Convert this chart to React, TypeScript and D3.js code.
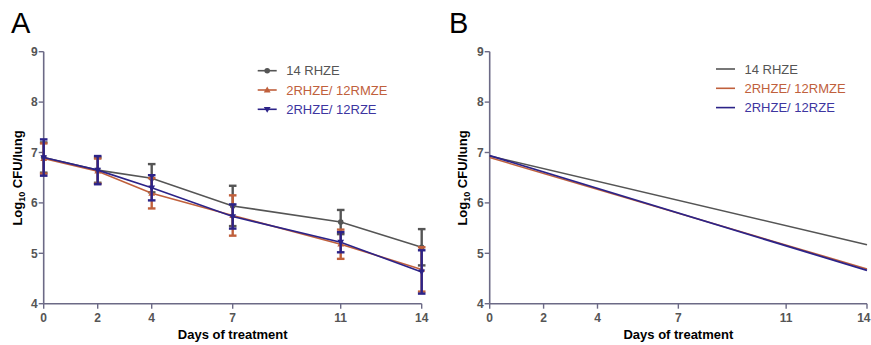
import * as d3 from 'd3'
import React from 'react'

const days = [0, 2, 4, 7, 11, 14]
const xTicks = [0, 2, 4, 7, 11, 14]
const yTicks = [4, 5, 6, 7, 8, 9]

const seriesNames = ['14 RHZE', '2RHZE/ 12RMZE', '2RHZE/ 12RZE']
const seriesColors = ['#555555', '#c0603c', '#2c2388']
const legendTextColors = ['#555555', '#c0603c', '#3d35a0']

// panel A means and SD
const meanRHZE = [6.9, 6.65, 6.49, 5.94, 5.62, 5.12]
const sdRHZE = [0.3, 0.25, 0.28, 0.4, 0.24, 0.36]
const meanRMZE = [6.88, 6.63, 6.19, 5.75, 5.18, 4.68]
const sdRMZE = [0.3, 0.25, 0.3, 0.4, 0.29, 0.44]
const meanRZE = [6.9, 6.65, 6.3, 5.73, 5.22, 4.63]
const sdRZE = [0.36, 0.28, 0.25, 0.24, 0.2, 0.43]

// panel B fitted lines (start, end)
const fitDays = [0, 14]
const fitRHZE = [6.93, 5.17]
const fitRMZE = [6.9, 4.69]
const fitRZE = [6.94, 4.66]

const meansA = [meanRHZE, meanRMZE, meanRZE]
const sdsA = [sdRHZE, sdRMZE, sdRZE]
const fitsB = [fitRHZE, fitRMZE, fitRZE]

const axisColor = '#6c6a86'
const tickColor = '#555555'
const font = '"Liberation Sans", Arial, sans-serif'

const y = d3.scaleLinear().domain([4, 9]).range([303.7, 51.7])

const Marker = ({ kind, cx, cy, color }: any) => {
  if (kind === 0) return <circle cx={cx} cy={cy} r={2.8} fill={color} />
  const s = 3.4
  const pts =
    kind === 1
      ? [[cx, cy - s], [cx - s, cy + s * 0.7], [cx + s, cy + s * 0.7]]
      : [[cx, cy + s], [cx - s, cy - s * 0.7], [cx + s, cy - s * 0.7]]
  return <polygon points={pts.map((p) => p.join(',')).join(' ')} fill={color} />
}

const Panel = ({ label, x0, x1, labelX, ytitleX, legendX, legendY, fit }: any) => {
  const x = d3.scaleLinear().domain([0, 14]).range([x0, x1])
  const line = d3
    .line<number[]>()
    .x((d) => x(d[0]))
    .y((d) => y(d[1]))

  return (
    <g>
      <text x={labelX} y={33} fontSize={29} fontFamily={font} fill="#000">
        {label}
      </text>

      {/* axes */}
      <line x1={x0} x2={x0} y1={y(9)} y2={y(4)} stroke={axisColor} strokeWidth={1.6} />
      <line x1={x0} x2={x1} y1={y(4)} y2={y(4)} stroke={axisColor} strokeWidth={1.6} />
      {yTicks.map((t) => (
        <g key={'y' + t}>
          <line x1={x0 - 5} x2={x0} y1={y(t)} y2={y(t)} stroke={axisColor} strokeWidth={1.4} />
          <text x={x0 - 6} y={y(t) + 4.3} textAnchor="end" fontSize={12} fontWeight="bold" fontFamily={font} fill={tickColor}>
            {t}
          </text>
        </g>
      ))}
      {xTicks.map((t) => {
        // keep the last label inside the picture on the right-hand panel
        const overflow = x(t) + 8 > 871
        return (
          <g key={'x' + t}>
            <line x1={x(t)} x2={x(t)} y1={y(4)} y2={y(4) + 5} stroke={axisColor} strokeWidth={1.4} />
            <text
              x={overflow ? 870.5 : x(t)}
              y={y(4) + 18.5}
              textAnchor={overflow ? 'end' : 'middle'}
              fontSize={12}
              fontWeight="bold"
              fontFamily={font}
              fill={tickColor}
            >
              {t}
            </text>
          </g>
        )
      })}

      <text
        x={(x0 + x1) / 2}
        y={339}
        textAnchor="middle"
        fontSize={13}
        fontWeight="bold"
        fontFamily={font}
        fill="#000"
      >
        Days of treatment
      </text>
      <text
        transform={`translate(${ytitleX},${178}) rotate(-90)`}
        textAnchor="middle"
        fontSize={13}
        fontWeight="bold"
        fontFamily={font}
        fill="#000"
      >
        Log<tspan fontSize={9} dy={3}>10</tspan>
        <tspan dy={-3}> CFU/lung</tspan>
      </text>

      {/* data */}
      {fit
        ? fitsB.map((f, i) => (
            <path
              key={i}
              d={line(fitDays.map((d, j) => [d, f[j]])) || ''}
              fill="none"
              stroke={seriesColors[i]}
              strokeWidth={i === 2 ? 1.8 : 1.5}
            />
          ))
        : meansA.map((m, i) => (
            <g key={i}>
              <path
                d={line(days.map((d, j) => [d, m[j]])) || ''}
                fill="none"
                stroke={seriesColors[i]}
                strokeWidth={1.6}
              />
              {days.map((d, j) => {
                const cx = x(d)
                const top = y(m[j] + sdsA[i][j])
                const bot = y(m[j] - sdsA[i][j])
                return (
                  <g key={j} stroke={seriesColors[i]} strokeWidth={2.4}>
                    <line x1={cx} x2={cx} y1={top} y2={bot} />
                    <line x1={cx - 3.8} x2={cx + 3.8} y1={top} y2={top} />
                    <line x1={cx - 3.8} x2={cx + 3.8} y1={bot} y2={bot} />
                  </g>
                )
              })}
              {days.map((d, j) => (
                <Marker key={'m' + j} kind={i} cx={x(d)} cy={y(m[j])} color={seriesColors[i]} />
              ))}
            </g>
          ))}

      {/* legend */}
      {seriesNames.map((n, i) => {
        const ly = legendY + i * 19.3
        return (
          <g key={n}>
            <line x1={legendX} x2={legendX + 19} y1={ly} y2={ly} stroke={seriesColors[i]} strokeWidth={1.6} />
            {!fit && <Marker kind={i} cx={legendX + 9.5} cy={ly} color={seriesColors[i]} />}
            <text x={legendX + 28.5} y={ly + 4.6} fontSize={13} fontFamily={font} fill={legendTextColors[i]}>
              {n}
            </text>
          </g>
        )
      })}
    </g>
  )
}

export default function App() {
  return (
    <div style={{ position: 'absolute', left: 0, top: 0 }}>
      <svg width={871} height={345} style={{ display: 'block', background: '#fff' }}>
        <Panel label="A" x0={43.7} x1={421.7} labelX={11} ytitleX={22} legendX={257.7} legendY={70.7} fit={false} />
        <Panel label="B" x0={489.7} x1={867} labelX={449} ytitleX={467} legendX={716} legendY={69} fit={true} />
      </svg>
    </div>
  )
}
